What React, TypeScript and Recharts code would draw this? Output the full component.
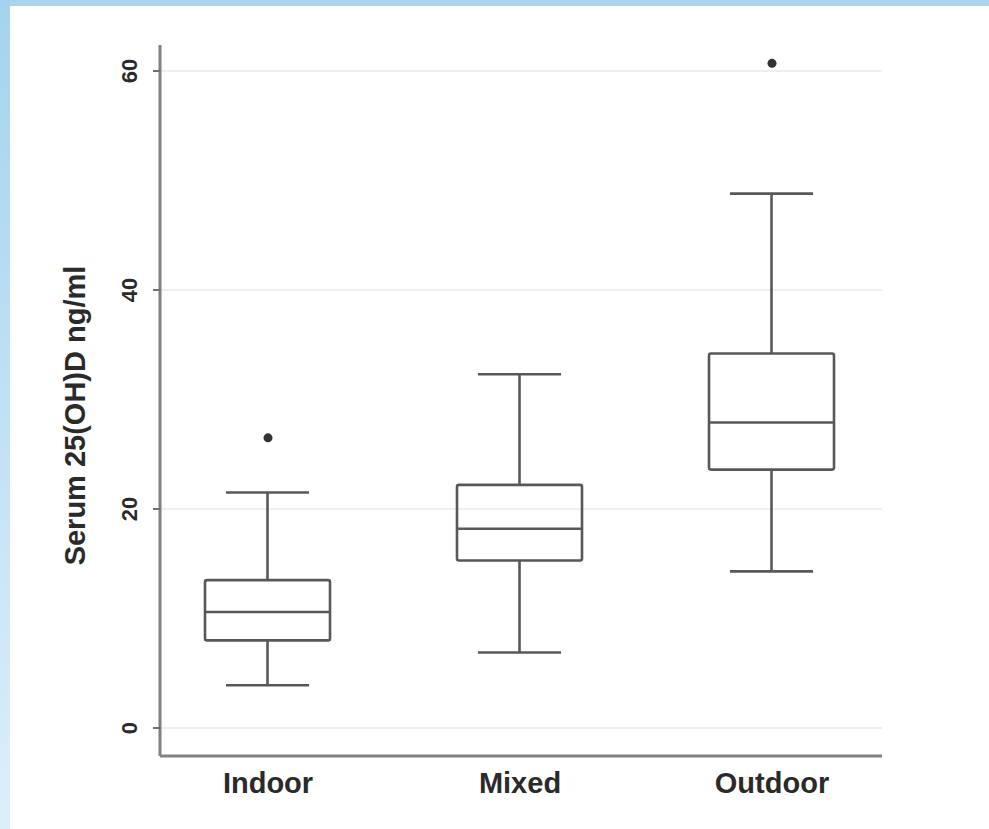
import React from 'react';
import { ComposedChart, Bar, Scatter, XAxis, YAxis, CartesianGrid } from 'recharts';

const categories = ['Indoor', 'Mixed', 'Outdoor'];
const categoryPositions = [1, 2, 3];
const whiskerLow = [3.9, 6.9, 14.3];
const q1 = [8.0, 15.3, 23.6];
const median = [10.6, 18.2, 27.9];
const q3 = [13.5, 22.2, 34.2];
const whiskerHigh = [21.5, 32.3, 48.8];
const outlierCategory = [1, 3];
const outlierValue = [26.5, 60.7];
const yTicks = [0, 20, 40, 60];
const yDomain = [-2.557, 62.374];
const xDomain = [0.5714, 3.4365];

const boxData = categories.map((name, i) => ({
  name,
  x: categoryPositions[i],
  base: whiskerLow[i],
  lowerWhisker: q1[i] - whiskerLow[i],
  box: q3[i] - q1[i],
  upperWhisker: whiskerHigh[i] - q3[i],
  q1: q1[i],
  median: median[i],
  q3: q3[i],
}));

const outlierData = outlierCategory.map((c, i) => ({ x: c, y: outlierValue[i] }));

const LINE = '#585858';
const LW = 2.6;
const CAP = 0.665;

const LowerWhisker = (props: any) => {
  const { x, y, width, height } = props;
  const cx = x + width / 2;
  const cw = width * CAP;
  return (
    <g>
      <line x1={cx} x2={cx} y1={y} y2={y + height} stroke={LINE} strokeWidth={LW} />
      <line x1={cx - cw / 2} x2={cx + cw / 2} y1={y + height} y2={y + height} stroke={LINE} strokeWidth={LW} />
    </g>
  );
};

const UpperWhisker = (props: any) => {
  const { x, y, width, height } = props;
  const cx = x + width / 2;
  const cw = width * CAP;
  return (
    <g>
      <line x1={cx} x2={cx} y1={y} y2={y + height} stroke={LINE} strokeWidth={LW} />
      <line x1={cx - cw / 2} x2={cx + cw / 2} y1={y} y2={y} stroke={LINE} strokeWidth={LW} />
    </g>
  );
};

const BoxShape = (props: any) => {
  const { x, y, width, height, payload } = props;
  const my = y + (height * (payload.q3 - payload.median)) / (payload.q3 - payload.q1);
  return (
    <g>
      <rect x={x} y={y} width={width} height={height} fill="none" stroke={LINE} strokeWidth={LW} strokeLinejoin="round" rx={2} />
      <line x1={x} x2={x + width} y1={my} y2={my} stroke={LINE} strokeWidth={LW} />
    </g>
  );
};

const YTick = (props: any) => {
  const { x, y, payload } = props;
  const tx = x - 14;
  return (
    <text
      x={tx}
      y={y}
      transform={`rotate(-90, ${tx}, ${y})`}
      textAnchor="middle"
      fontFamily="'Liberation Sans', Arial, sans-serif"
      fontWeight="bold"
      fontSize={22}
      fill="#2a2a2a"
    >
      {payload.value}
    </text>
  );
};

const XTick = (props: any) => {
  const { x, y, payload } = props;
  const idx = categoryPositions.indexOf(payload.value);
  return (
    <text
      x={x}
      y={y + 37}
      textAnchor="middle"
      fontFamily="'Liberation Sans', Arial, sans-serif"
      fontWeight="bold"
      fontSize={29}
      fill="#2a2a2a"
    >
      {idx >= 0 ? categories[idx] : ''}
    </text>
  );
};

const YLabel = (props: any) => {
  const { viewBox } = props;
  const tx = viewBox.x + 85;
  const ty = viewBox.y + viewBox.height / 2 + 15;
  return (
    <text
      x={tx}
      y={ty}
      transform={`rotate(-90, ${tx}, ${ty})`}
      textAnchor="middle"
      fontFamily="'Liberation Sans', Arial, sans-serif"
      fontWeight="bold"
      fontSize={29}
      fill="#2a2a2a"
    >
      Serum 25(OH)D ng/ml
    </text>
  );
};

const gridGenerator = (args: any) => {
  const scale = args?.yAxis?.scale;
  if (typeof scale === 'function') return yTicks.map((t) => scale(t));
  if (scale && typeof scale.map === 'function') return yTicks.map((t) => scale.map(t));
  return [];
};

export default function App() {
  return (
    <div style={{ position: 'absolute', left: 0, top: 0, width: 989, height: 829, background: '#ffffff', overflow: 'hidden' }}>
      <div style={{ position: 'absolute', left: 0, top: 0, width: 989, height: 6, background: '#a8d5ee' }} />
      <div style={{ position: 'absolute', left: 0, top: 0, width: 10, height: 829, background: 'linear-gradient(to bottom, #a5d3ee, #deeef9)' }} />
      <div style={{ position: 'absolute', left: 0, top: 0 }}>
        <ComposedChart width={989} height={829} data={boxData} margin={{ top: 45, right: 107, bottom: 0, left: 0 }}>
          <CartesianGrid horizontal={true} vertical={false} stroke="#efefef" strokeWidth={2} horizontalCoordinatesGenerator={gridGenerator} />
          <XAxis
            dataKey="x"
            type="number"
            domain={xDomain}
            ticks={categoryPositions}
            allowDataOverflow
            height={73}
            tickLine={false}
            tickSize={0}
            tickMargin={0}
            tick={<XTick />}
            axisLine={{ stroke: '#808080', strokeWidth: 3 }}
          />
          <YAxis
            type="number"
            domain={yDomain}
            ticks={yTicks}
            allowDataOverflow
            width={160}
            tickSize={7}
            tickMargin={2}
            tick={<YTick />}
            tickLine={{ stroke: '#707070', strokeWidth: 2 }}
            axisLine={{ stroke: '#808080', strokeWidth: 3 }}
            label={<YLabel />}
          />
          <Bar dataKey="base" stackId="b" fill="none" barSize={125} isAnimationActive={false} />
          <Bar dataKey="lowerWhisker" stackId="b" barSize={125} shape={<LowerWhisker />} isAnimationActive={false} />
          <Bar dataKey="box" stackId="b" barSize={125} shape={<BoxShape />} isAnimationActive={false} />
          <Bar dataKey="upperWhisker" stackId="b" barSize={125} shape={<UpperWhisker />} isAnimationActive={false} />
          <Scatter data={outlierData} dataKey="y" fill="#333333" shape="circle" isAnimationActive={false} legendType="none" />
        </ComposedChart>
      </div>
    </div>
  );
}
